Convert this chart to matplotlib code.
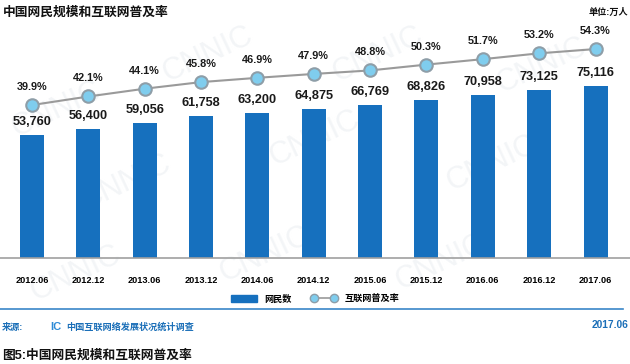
import matplotlib
matplotlib.use("Agg")
import matplotlib.pyplot as plt
from matplotlib.patches import Patch
from matplotlib.lines import Line2D

plt.rcParams['font.family'] = ['Liberation Sans', 'Noto Sans CJK SC', 'DejaVu Sans']

periods = ["2012.06", "2012.12", "2013.06", "2013.12", "2014.06", "2014.12",
           "2015.06", "2015.12", "2016.06", "2016.12", "2017.06"]
netizens = [53760, 56400, 59056, 61758, 63200, 64875, 66769, 68826, 70958, 73125, 75116]
penetration = [39.9, 42.1, 44.1, 45.8, 46.9, 47.9, 48.8, 50.3, 51.7, 53.2, 54.3]

bar_color = "#1670be"
blue_text = "#1b6fb8"

W, H = 630, 364
fig = plt.figure(figsize=(W / 100, H / 100), dpi=100)

# faint watermark, behind everything
for wx, wy in [(0.09, 0.70), (0.33, 0.85), (0.6, 0.85), (0.86, 0.82), (0.2, 0.5),
               (0.5, 0.62), (0.78, 0.55), (0.12, 0.25), (0.42, 0.3), (0.7, 0.28)]:
    fig.text(wx, wy, "CNNIC", fontsize=22, color="#f3f5f7", rotation=25,
             ha="center", va="center", zorder=-5)

ax = fig.add_axes([0, (H - 258) / H, 1, 228 / H])
ax.patch.set_alpha(0)
x = list(range(len(periods)))
ax.bar(x, netizens, width=24 / 56.35, color=bar_color, zorder=2)
ax.set_xlim(-32 / 56.35, (W - 32) / 56.35)
ax.set_ylim(0, 99500)
for s in ["top", "left", "right"]:
    ax.spines[s].set_visible(False)
ax.spines["bottom"].set_color("#a0a0a0")
ax.spines["bottom"].set_linewidth(1.2)
ax.set_yticks([])
ax.set_xticks(x)
ax.set_xticklabels(periods, fontsize=6.6, fontweight="bold")
ax.tick_params(axis="x", length=0, pad=13)
for xi, v in zip(x, netizens):
    ax.annotate(f"{v:,}", (xi, v), xytext=(0, 13), textcoords="offset pixels",
                ha="center", va="center", fontsize=9.2, fontweight="bold", color="#1a1a1a")

ax2 = ax.twinx()
ax2.set_ylim(0.56, 59.2)
ax2.axis("off")
ax2.plot(x, penetration, color="#9a9a9a", lw=1.5, marker="o", ms=9,
         mfc="#7fcdee", mec="#8e9ea8", mew=1.5, zorder=3)
for xi, v in zip(x, penetration):
    ax2.annotate(f"{v}%", (xi, v), xytext=(0, 18), textcoords="offset pixels",
                 ha="center", va="center", fontsize=7.8, fontweight="bold", color="#1a1a1a")

# titles
fig.text(3 / W, 1 - 13 / H, "中国网民规模和互联网普及率", fontsize=9.2, fontweight="bold",
         ha="left", va="center", color="#111111")
fig.text(628 / W, 1 - 12 / H, "单位:万人", fontsize=6.6, fontweight="bold",
         ha="right", va="center", color="#111111")

# legend
handles = [Patch(color=bar_color),
           Line2D([], [], color="#9a9a9a", lw=1.2, marker="o", ms=6,
                  mfc="#7fcdee", mec="#8e9ea8", mew=1)]
fig.legend(handles, ["网民数", "互联网普及率"], loc="center",
           bbox_to_anchor=(315 / W, 1 - 299 / H), ncol=2, frameon=False,
           prop={"size": 6.6, "weight": "bold"}, handlelength=2.8, handleheight=0.8,
           columnspacing=2.2, handletextpad=0.8, numpoints=2)

# separator and source
fig.add_artist(Line2D([0, 623 / W], [1 - 309 / H, 1 - 309 / H], color="#3a86c8", lw=1.2))
fig.text(2 / W, 1 - 327 / H, "来源:", fontsize=6.6, fontweight="bold",
         ha="left", va="center", color=blue_text)
fig.text(50 / W, 1 - 327 / H, "IC", fontsize=8, fontweight="bold",
         ha="left", va="center", color="#2e8bd6")
fig.text(66 / W, 1 - 327 / H, "中国互联网络发展状况统计调查", fontsize=6.6, fontweight="bold",
         ha="left", va="center", color=blue_text)
fig.text(628 / W, 1 - 325 / H, "2017.06", fontsize=7.4, fontweight="bold",
         ha="right", va="center", color=blue_text)

fig.text(2 / W, 1 - 356 / H, "图5:中国网民规模和互联网普及率", fontsize=9.2, fontweight="bold",
         ha="left", va="center", color="#111111")

fig.savefig("out.png", dpi=100)
